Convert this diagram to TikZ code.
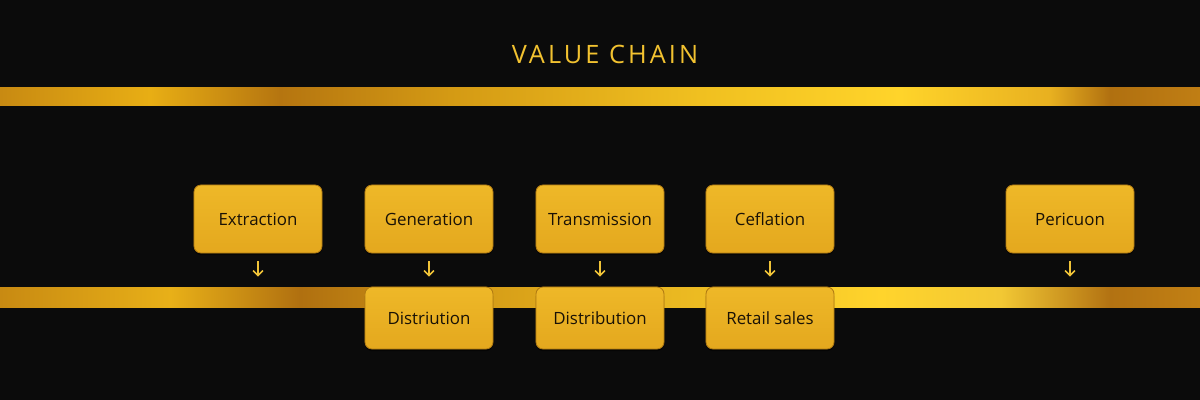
\documentclass[tikz,border=0pt]{standalone}
\usepackage{fontspec}
\setmainfont{Open Sans}
\newfontfamily\titlefont[LetterSpace=12]{Open Sans}
\usetikzlibrary{arrows.meta,shadows}
\definecolor{bgc}{HTML}{0B0B0B}
\definecolor{titlec}{HTML}{F2C230}
\definecolor{boxtop}{HTML}{EEB828}
\definecolor{boxbot}{HTML}{E4A81E}
\definecolor{boxedge}{HTML}{B07A12}
\definecolor{arrc}{HTML}{F0C338}
\definecolor{txtc}{HTML}{1A1206}
\definecolor{ga}{HTML}{C88A12}
\definecolor{gb}{HTML}{E8AE14}
\definecolor{gc}{HTML}{B57510}
\definecolor{gd}{HTML}{D49A14}
\definecolor{ge}{HTML}{F0C020}
\definecolor{gf}{HTML}{FFD42A}
\definecolor{gg}{HTML}{E8B020}
\definecolor{gh}{HTML}{B07010}
\definecolor{gi}{HTML}{C07E14}
\definecolor{hb}{HTML}{E8B018}
\definecolor{hd}{HTML}{D8A018}
\definecolor{hf}{HTML}{FFD42C}
\definecolor{hg}{HTML}{F2C834}
\definecolor{hh}{HTML}{B27212}
\definecolor{hi}{HTML}{C28014}
\pgfdeclarehorizontalshading{goldtop}{100bp}{color(0bp)=(ga);color(25bp)=(ga);color(31.25bp)=(gb);color(36.67bp)=(gc);color(43.75bp)=(gd);color(54.17bp)=(ge);color(62.5bp)=(gf);color(68.75bp)=(gg);color(71.25bp)=(gh);color(75bp)=(gi);color(100bp)=(gi)}
\pgfdeclarehorizontalshading{goldbot}{100bp}{color(0bp)=(ga);color(25bp)=(ga);color(32.1bp)=(hb);color(37.5bp)=(gh);color(45.8bp)=(hd);color(61.7bp)=(hf);color(66.7bp)=(hg);color(71.25bp)=(hh);color(75bp)=(hi);color(100bp)=(hi)}
\tikzset{
  stagebox/.style={rectangle, rounded corners=5pt, top color=boxtop, bottom color=boxbot,
    draw=boxedge, line width=0.6pt, minimum width=3.2cm, minimum height=1.7cm,
    text=txtc, font=\fontsize{12}{14}\selectfont, inner sep=0pt,
    drop shadow={shadow xshift=0pt, shadow yshift=-1.5pt, opacity=0.5, fill=black}},
  lowbox/.style={stagebox, minimum height=1.55cm},
  downarr/.style={draw=arrc, line width=1.1pt, -{Straight Barb[length=3.5pt,width=7pt]}},
}
\begin{document}
\begin{tikzpicture}[x=0.025cm,y=-0.025cm]
\fill[bgc] (0,0) rectangle (1200,400);
\node[text=titlec, font=\titlefont\fontsize{18}{21}\selectfont] (title) at (605,54) {VALUE CHAIN};
\shade[shading=goldtop] (0,88) rectangle (1200,106);
\shade[shading=goldbot] (0,287) rectangle (1200,307);
\node[stagebox] (ext) at (258,219) {Extraction};
\node[stagebox] (gen) at (429,219) {Generation};
\node[stagebox] (tra) at (600,219) {Transmission};
\node[stagebox] (cef) at (770,219) {Ceflation};
\node[stagebox] (per) at (1070,219) {Pericuon};
\node[lowbox] (dis1) at (429,318) {Distriution};
\node[lowbox] (dis2) at (600,318) {Distribution};
\node[lowbox] (ret) at (770,318) {Retail sales};
\foreach \b in {ext,gen,tra,cef,per}{
  \draw[downarr] ([yshift=-0.2cm]\b.south) -- ([yshift=-0.58cm]\b.south);
}
\end{tikzpicture}
\end{document}
